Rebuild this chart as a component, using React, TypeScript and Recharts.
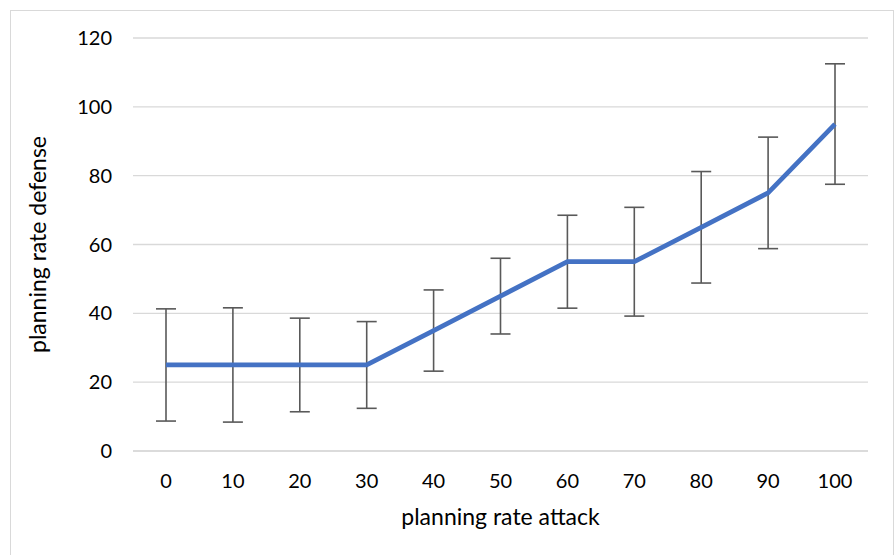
import React from "react";
import { LineChart, Line, XAxis, YAxis, CartesianGrid, ErrorBar } from "recharts";

const categories = ["0", "10", "20", "30", "40", "50", "60", "70", "80", "90", "100"];
const means = [25, 25, 25, 25, 35, 45, 55, 55, 65, 75, 95];
const errors = [16.3, 16.6, 13.6, 12.6, 11.8, 11, 13.5, 15.8, 16.2, 16.2, 17.5];
const yTicks = [0, 20, 40, 60, 80, 100, 120];

const data = categories.map((c, i) => ({ cat: c, value: means[i], err: errors[i] }));

const FONT = "Lato, 'Open Sans', sans-serif";

export default function App() {
  return (
    <div style={{ position: "absolute", left: 0, top: 0, width: 894, height: 555, background: "#fff", overflow: "hidden" }}>
      <div
        style={{
          position: "absolute",
          left: 10,
          top: 10,
          width: 882,
          height: 600,
          borderLeft: "1.5px solid #d9d9d9",
          borderTop: "1.5px solid #d9d9d9",
          borderRight: "1.5px solid #d9d9d9",
        }}
      />
      <div style={{ position: "absolute", left: 0, top: 0 }}>
        <LineChart
          width={894}
          height={555}
          data={data}
          margin={{ top: 38, right: 26, left: 13, bottom: 74 }}
          style={{ fontFamily: FONT }}
        >
          <CartesianGrid vertical={false} stroke="#d9d9d9" strokeWidth={1.3} />
          <XAxis
            dataKey="cat"
            padding={{ left: 33, right: 33 }}
            axisLine={{ stroke: "#d9d9d9", strokeWidth: 1.3 }}
            tickLine={false}
            tickMargin={17}
            height={30}
            tick={{ fill: "#000", fontSize: 20, fontFamily: FONT }}
            label={{ value: "planning rate attack", position: "bottom", offset: 28, fill: "#000", fontSize: 23, fontFamily: FONT }}
          />
          <YAxis
            domain={[0, 120]}
            ticks={yTicks}
            width={120}
            axisLine={false}
            tickLine={false}
            tickMargin={15}
            tick={{ fill: "#000", fontSize: 20, fontFamily: FONT }}
            label={{
              value: "planning rate defense",
              angle: -90,
              position: "insideLeft",
              offset: 25,
              fill: "#000",
              fontSize: 23,
              fontFamily: FONT,
              style: { textAnchor: "middle" },
            }}
          />
          <Line dataKey="value" stroke="none" dot={false} activeDot={false} isAnimationActive={false} legendType="none">
            <ErrorBar dataKey="err" width={10} stroke="#595959" strokeWidth={1.6} direction="y" isAnimationActive={false} />
          </Line>
          <Line
            dataKey="value"
            stroke="#4472C4"
            strokeWidth={4.7}
            strokeLinejoin="round"
            dot={false}
            activeDot={false}
            isAnimationActive={false}
          />
        </LineChart>
      </div>
    </div>
  );
}
